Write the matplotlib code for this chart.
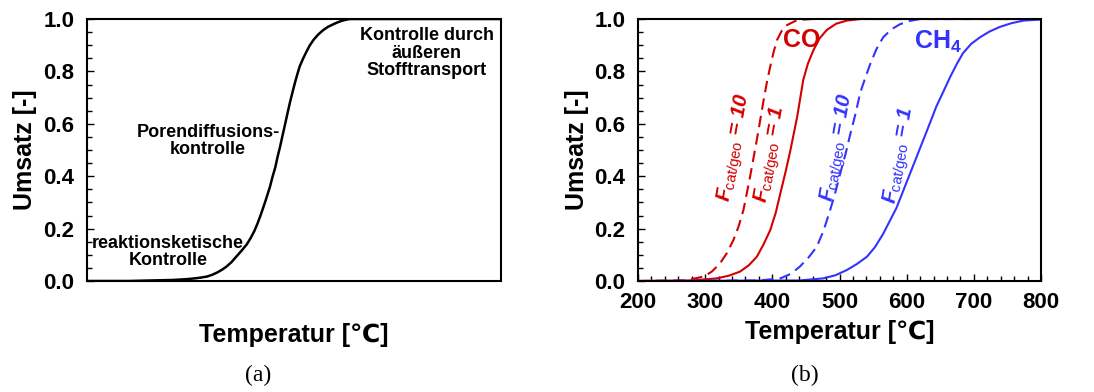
import matplotlib
matplotlib.use("Agg")
import matplotlib.pyplot as plt
from matplotlib.ticker import MultipleLocator, NullLocator

plt.rcParams['font.family'] = ['Liberation Sans', 'DejaVu Sans']
plt.rcParams['mathtext.fontset'] = 'custom'
plt.rcParams['mathtext.rm'] = 'Liberation Sans'
plt.rcParams['mathtext.it'] = 'Liberation Sans:italic:bold'
plt.rcParams['mathtext.bf'] = 'Liberation Sans:bold'

# ---- panel (a): schematic curve (x in axis fraction) ----
a_x = [0.0, 0.10, 0.208, 0.24, 0.26, 0.275, 0.29, 0.303, 0.315, 0.326, 0.337, 0.349, 0.36, 0.373,
       0.386, 0.395, 0.404, 0.411, 0.418, 0.425, 0.432, 0.437, 0.442, 0.448, 0.455, 0.460, 0.466,
       0.472, 0.478, 0.484, 0.490, 0.496, 0.502, 0.508, 0.514, 0.522, 0.530, 0.538, 0.547, 0.558,
       0.570, 0.582, 0.595, 0.605, 0.615, 0.625, 0.635, 1.0]
a_y = [0.0, 0.0, 0.004, 0.007, 0.010, 0.013, 0.017, 0.024, 0.033, 0.043, 0.055, 0.072, 0.092, 0.115,
       0.14, 0.163, 0.19, 0.216, 0.245, 0.277, 0.31, 0.335, 0.36, 0.397, 0.435, 0.472, 0.51,
       0.553, 0.595, 0.638, 0.68, 0.718, 0.755, 0.789, 0.82, 0.849, 0.875, 0.899, 0.92, 0.94,
       0.957, 0.970, 0.98, 0.987, 0.993, 0.997, 1.0, 1.0]

# ---- panel (b): conversion vs temperature ----
co1_T = [200, 280, 317, 335, 352, 365, 377, 387, 397, 405, 412, 420, 427, 437, 446, 453, 461, 470, 481, 495, 511, 531, 800]
co1_X = [0.0, 0.002, 0.01, 0.02, 0.036, 0.06, 0.093, 0.14, 0.195, 0.26, 0.335, 0.42, 0.5, 0.627, 0.767, 0.83, 0.88, 0.925, 0.958, 0.982, 0.994, 1.0, 1.0]
co10_T = [200, 270, 298, 310, 322, 332, 342, 350, 357, 362, 367, 372, 377, 382, 387, 392, 397, 402, 407, 414, 422, 437, 460, 800]
co10_X = [0.0, 0.002, 0.017, 0.036, 0.067, 0.105, 0.156, 0.21, 0.271, 0.335, 0.40, 0.47, 0.54, 0.615, 0.69, 0.76, 0.82, 0.875, 0.92, 0.955, 0.977, 0.996, 1.0, 1.0]
ch410_T = [200, 380, 412, 428, 441, 454, 466, 476, 486, 494, 501, 509, 516, 524, 531, 539, 546, 555, 565, 577, 590, 605, 620, 800]
ch410_X = [0.0, 0.002, 0.01, 0.028, 0.055, 0.09, 0.13, 0.19, 0.27, 0.34, 0.41, 0.485, 0.56, 0.64, 0.72, 0.78, 0.83, 0.885, 0.93, 0.96, 0.98, 0.993, 1.0, 1.0]
ch41_T = [200, 440, 476, 494, 511, 526, 541, 553, 565, 575, 585, 595, 605, 615, 625, 635, 644, 655, 665, 675, 684, 696, 709, 724, 739, 756, 774, 800]
ch41_X = [0.0, 0.002, 0.01, 0.022, 0.042, 0.065, 0.093, 0.13, 0.18, 0.23, 0.28, 0.345, 0.41, 0.475, 0.54, 0.605, 0.665, 0.725, 0.78, 0.83, 0.87, 0.905, 0.93, 0.953, 0.97, 0.984, 0.994, 0.998]

x_ticks = [200, 300, 400, 500, 600, 700, 800]
y_ticks = [0.0, 0.2, 0.4, 0.6, 0.8, 1.0]

RED = '#d40000'
BLUE = '#3333ff'
DASH = (0, (5.5, 3))

fig = plt.figure(figsize=(10.94, 3.92), dpi=100)
W, H = 1094, 392

def style(ax, ylabelpad):
    for s in ax.spines.values():
        s.set_linewidth(1.5)
    ax.set_ylim(0, 1)
    ax.set_yticks(y_ticks)
    ax.set_yticklabels(['%.1f' % v for v in y_ticks])
    ax.yaxis.set_minor_locator(MultipleLocator(0.05))
    ax.tick_params(axis='both', which='both', direction='in', labelsize=16, width=1.0)
    ax.tick_params(axis='both', which='major', length=5)
    ax.tick_params(axis='both', which='minor', length=3.5)
    ax.tick_params(axis='y', which='major', pad=9)
    for lab in ax.get_yticklabels() + ax.get_xticklabels():
        lab.set_fontweight('bold')
    ax.set_ylabel('Umsatz [-]', fontsize=18, fontweight='bold', labelpad=ylabelpad)

# panel a
axa = fig.add_axes([87 / W, 1 - 281 / H, 414 / W, 262 / H])
axa.plot(a_x, a_y, color='black', lw=1.8)
axa.set_xlim(0, 1)
style(axa, 5)
axa.xaxis.set_major_locator(NullLocator())
axa.xaxis.set_minor_locator(NullLocator())
axa.set_xlabel('Temperatur [℃]', fontsize=18, fontweight='bold', labelpad=30)
axa.text(427 / W, 1 - 53 / H, 'Kontrolle durch\näußeren\nStofftransport', transform=fig.transFigure,
         ha='center', va='center', fontsize=13, fontweight='bold', linespacing=1.05)
axa.text(208 / W, 1 - 141 / H, 'Porendiffusions-\nkontrolle', transform=fig.transFigure,
         ha='center', va='center', fontsize=13, fontweight='bold', linespacing=1.05)
axa.text(168 / W, 1 - 252 / H, 'reaktionsketische\nKontrolle', transform=fig.transFigure,
         ha='center', va='center', fontsize=13, fontweight='bold', linespacing=1.05)
fig.text(258 / W, 1 - 375 / H, '(a)', family='Liberation Serif', fontsize=17, ha='center', va='center')

# panel b
axb = fig.add_axes([638 / W, 1 - 281 / H, 403 / W, 262 / H])
axb.plot(co10_T, co10_X, color=RED, lw=1.5, ls=DASH)
axb.plot(co1_T, co1_X, color=RED, lw=1.5)
axb.plot(ch410_T, ch410_X, color=BLUE, lw=1.5, ls=DASH)
axb.plot(ch41_T, ch41_X, color=BLUE, lw=1.5)
axb.set_xlim(200, 800)
style(axb, 4)
axb.set_xticks(x_ticks)
axb.set_xticklabels([str(v) for v in x_ticks])
axb.xaxis.set_minor_locator(MultipleLocator(20))
for lab in axb.get_xticklabels():
    lab.set_fontweight('bold')
axb.tick_params(axis='x', which='major', pad=8)
axb.set_xlabel('Temperatur [℃]', fontsize=18, fontweight='bold', labelpad=5)

axb.text(802 / W, 1 - 40 / H, 'CO', transform=fig.transFigure, color=RED,
         fontsize=18, fontweight='bold', ha='center', va='center')
axb.text(938 / W, 1 - 42 / H, r'CH$_\mathbf{4}$', transform=fig.transFigure, color=BLUE,
         fontsize=18, fontweight='bold', ha='center', va='center')

flabels = [(735, 148, '10', RED), (771, 155, '1', RED), (838, 148, '10', BLUE), (900, 156, '1', BLUE)]
for x, y, n, c in flabels:
    axb.text(x / W, 1 - y / H, r'$F_{\mathrm{cat/geo}}$ = ' + n, transform=fig.transFigure,
             color=c, fontsize=15, fontweight='bold', fontstyle='italic',
             rotation=80, ha='center', va='center', rotation_mode='anchor')

fig.text(805 / W, 1 - 375 / H, '(b)', family='Liberation Serif', fontsize=17, ha='center', va='center')

fig.savefig('out.png', dpi=100)
